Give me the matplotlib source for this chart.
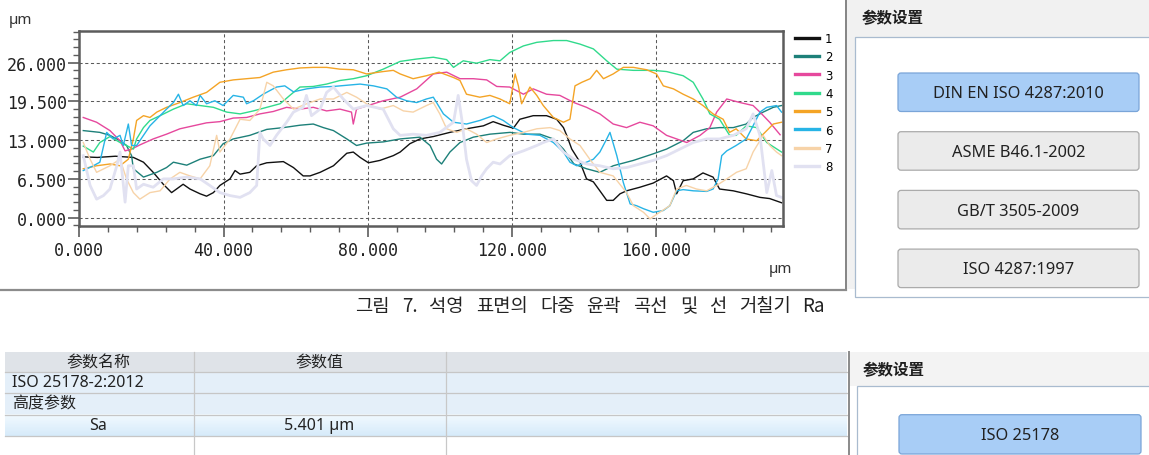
import numpy as np
import matplotlib
matplotlib.use("Agg")
import matplotlib.pyplot as plt
from matplotlib.patches import Rectangle, FancyBboxPatch
from matplotlib.ticker import MultipleLocator, FormatStrFormatter

# profile curves (x in µm, height in µm)
s1_x = [1, 5, 10, 15, 17.8, 20.5, 23.3, 25.6, 28.8, 30.7, 33.5, 35.3, 37.2, 39, 41.8, 43.2, 44.6, 47.3, 49.2, 52,
        56.6, 59.4, 62.1, 64, 66.8, 70.5, 74.2, 76, 77.9, 80.2, 83.4, 87.1, 89, 91.7, 94.5, 98.2, 102.8, 107.4, 112.1,
        114.8, 117.6, 120.4, 122.2, 125.9, 129.6, 132.4, 134.3, 135.2, 136.6, 138.9, 140.7, 142.6, 144.4, 146.3, 148.1,
        150, 151.8, 155.5, 159.2, 162.9, 164.8, 165.7, 167.5, 170.3, 173, 175.8, 177.6, 181.4, 185, 188.8, 191.5, 194.8]
s1_y = [10.2, 10.1, 10.3, 10.1, 9.3, 7.6, 5.6, 4.2, 5.6, 4.8, 4.0, 3.6, 4.2, 5.4, 6.5, 7.9, 7.3, 7.6, 8.7, 9.2,
        9.4, 8.4, 7.0, 7.0, 7.6, 8.7, 10.8, 11.0, 10.1, 9.2, 9.6, 10.4, 11.0, 12.4, 13.2, 13.6, 14.3, 14.9, 15.4,
        16.1, 15.5, 15.0, 16.5, 17.1, 17.1, 16.5, 15.1, 13.8, 11.5, 9.3, 6.5, 6.0, 4.5, 2.9, 2.9,
        4.0, 4.5, 5.1, 5.8, 7.0, 6.2, 4.0, 6.2, 6.5, 7.5, 6.8, 4.8, 4.5, 4.0, 3.4, 3.2, 2.5]

s2_x = [1.1, 5.7, 8.5, 11.3, 13.1, 14.5, 15, 17.8, 21.5, 24.2, 26.1, 29.8, 33.5, 37.2, 39.9, 42.7, 47.3, 52, 56.6,
        61.2, 64.9, 67.7, 70.5, 74.2, 76.9, 79.7, 84.3, 89, 94.5, 97.3, 99.1, 100.5, 102.8, 105.6, 109.3, 113.9,
        119.5, 123.2, 127.8, 131.5, 134.3, 137.2, 140.7, 144.4, 148.1, 153.7, 159.2, 162.9, 167.5, 170.3, 174,
        177.6, 181.4, 185, 186.9, 189.7, 192.5, 194.8]
s2_y = [14.6, 14.3, 13.8, 12.9, 12.1, 10.4, 8.2, 6.8, 7.6, 8.4, 9.3, 8.8, 9.8, 10.4, 12.4, 13.2, 13.8, 14.8, 15.1,
        15.5, 15.7, 15.1, 14.6, 13.2, 12.1, 12.5, 12.7, 13.2, 13.5, 12.1, 9.8, 9.0, 11.0, 12.6, 13.5, 14.0,
        14.3, 14.0, 14.0, 13.2, 11.5, 9.0, 8.2, 7.6, 8.7, 9.6, 10.7, 11.5, 12.9, 14.3, 14.9,
        15.1, 15.1, 15.7, 16.8, 17.7, 18.5, 18.8]

s3_x = [1.1, 4.8, 8.5, 11.3, 12.7, 14.5, 16.8, 20.5, 24.2, 27.9, 31.6, 35.3, 39, 42.7, 46.4, 50.1, 53.8, 57.5, 61.2,
        64.9, 68.6, 72.3, 75.5, 76, 76.9, 80.6, 84.3, 89, 93.6, 98.2, 101.9, 105.6, 109.3, 113.0, 115.8, 119.4,
        123.2, 125.9, 129.6, 133.3, 137.2, 140.7, 144.4, 148.1, 151.8, 155.5, 159.2, 162.9, 165.7, 168.5, 172.2,
        174.9, 176.8, 179.6, 183.3, 186.9, 188.8, 191.5, 194.4]
s3_y = [16.8, 16.0, 14.6, 12.9, 11.2, 11.5, 12.2, 13.2, 14.0, 14.9, 15.4, 15.9, 16.1, 16.7, 16.8, 17.4, 17.8, 18.5, 18.2,
        18.5, 17.9, 18.2, 17.7, 15.7, 18.2, 18.9, 19.6, 20.2, 21.6, 24.1, 24.4, 23.3, 23.3, 23.1, 22.0, 21.9,
        20.7, 21.6, 20.7, 20.5, 19.3, 18.5, 17.4, 15.7, 15.1, 16.0, 15.4, 13.8, 13.2, 12.6, 13.8,
        15.1, 17.7, 19.9, 19.3, 18.8, 17.7, 16.0, 13.9]

s4_x = [1.1, 3.9, 5.7, 8.5, 11.3, 13.1, 15, 15.9, 17.8, 19.6, 22.4, 26.1, 29.8, 33.5, 37.2, 40.9, 44.6, 48.3, 52,
        55.7, 58.4, 61.2, 64.9, 68.6, 72.3, 76, 79.7, 84.3, 89, 93.6, 98.2, 101.9, 103.8, 106.5, 110.2, 113.9,
        116.7, 119.4, 123.2, 126.9, 131.5, 135.2, 138.9, 142.6, 146.3, 149.1, 153.7, 159.2, 162.9, 167.5, 170.3,
        173, 174.9, 177.6, 180.4, 182.2, 185, 187.9, 190.7, 194.8]
s4_y = [12.0, 11.0, 12.6, 13.6, 12.6, 12.1, 11.5, 13.2, 15.1, 16.3, 17.1, 18.2, 19.1, 18.8, 18.5, 17.7, 17.4, 17.9, 18.5,
        19.1, 20.5, 21.9, 22.0, 22.4, 23.0, 23.3, 23.8, 24.9, 26.2, 26.6, 26.9, 26.5, 25.2, 26.3, 25.9, 26.5,
        26.3, 27.7, 28.8, 29.4, 29.7, 29.7, 29.1, 28.3, 26.3, 24.9, 24.7, 24.7, 24.5, 23.8, 22.7,
        19.9, 17.4, 16.5, 13.8, 13.8, 15.4, 15.1, 12.6, 11.0]

s5_x = [1.1, 4.8, 8.5, 11.3, 13.6, 15, 15.9, 17.8, 19.6, 21.5, 24.2, 27.9, 31.6, 35.3, 39, 42.7, 46.4, 50.1, 53.8,
        57.5, 61.2, 64.9, 68.6, 72.3, 76, 79.7, 84.3, 87.1, 89, 92.6, 96.3, 99.8, 103.8, 105.6, 107.4, 111.1,
        113.9, 116.7, 119.4, 120.9, 121.8, 122.7, 125.0, 126.9, 128.7, 131.5, 134.3, 136.1, 137.5, 139.4, 141.7,
        143.5, 145.4, 148.1, 150.9, 153.7, 157.4, 160.1, 162, 164.8, 167.5, 170.3, 173, 175.8, 178.6, 180.4,
        182.2, 185, 187.9, 190.7, 192.5, 194.8]
s5_y = [8.2, 8.7, 9.0, 8.7, 9.8, 13.2, 16.3, 17.1, 16.8, 17.7, 18.5, 19.3, 20.2, 21.0, 22.7, 23.1, 23.3, 23.5, 24.4,
        24.8, 25.1, 25.2, 25.2, 24.9, 24.8, 24.1, 24.5, 24.7, 24.1, 23.3, 23.8, 24.4, 23.5, 23.0, 20.7, 20.2,
        20.5, 19.9, 19.1, 24.1, 22.1, 19.1, 21.9, 20.5, 18.8, 16.8, 16.0, 16.5, 22.1, 22.7, 23.3,
        24.7, 23.3, 24.1, 25.2, 25.2, 24.8, 24.1, 22.1, 21.6, 20.7, 19.9, 18.8, 17.4, 16.5, 14.3,
        14.9, 13.2, 12.9, 14.6, 15.7, 16.0]

s6_x = [1.1, 3.9, 5.7, 7.6, 9.4, 11.3, 12.2, 13.6, 14.5, 15.9, 17.8, 19.6, 22.4, 24.2, 26.1, 27.5, 28.8, 30.7, 32.5,
        33.5, 35.3, 37.6, 39.9, 42.7, 45.5, 46.4, 48.3, 51, 54.7, 57, 59.4, 63.1, 66.8, 70.5, 74.2, 77.9, 81.6,
        85.3, 88, 90.8, 93.6, 96.3, 98.2, 101.0, 103.8, 107.4, 111.1, 114.8, 117.6, 120.4, 124.1, 127.8, 131.5,
        134.3, 136.1, 138.0, 140.7, 142.6, 144.4, 146.3, 147.2, 149.1, 150.9, 152.8, 154.6, 156.5, 159.2, 162,
        163.8, 165.7, 167.5, 170.3, 174, 175.8, 177.2, 178.2, 179.6, 182.2, 185, 186.9, 188.8, 190.7, 193.4, 194.8]
s6_y = [7.9, 8.7, 9.3, 14.3, 13.2, 13.8, 12.1, 15.7, 12.1, 12.1, 13.8, 15.4, 17.1, 18.2, 19.3, 20.7, 18.8, 19.6, 18.8,
        20.5, 19.1, 19.6, 18.8, 20.5, 20.2, 19.1, 19.6, 20.7, 21.9, 22.1, 21.1, 21.6, 21.9, 22.0, 22.2, 22.4, 22.1,
        21.6, 20.2, 19.6, 19.3, 19.9, 20.2, 17.4, 16.0, 15.7, 16.3, 17.1, 16.3, 15.1, 14.0, 13.8, 12.6,
        11.0, 9.3, 8.7, 9.3, 9.8, 11.0, 13.2, 14.3, 10.4, 5.9, 2.3, 2.0, 1.5, 0.9, 1.2,
        2.0, 4.5, 4.7, 4.5, 4.4, 4.8, 6.5, 10.4, 11.2, 12.1, 13.2, 15.4, 17.7, 18.5, 18.8, 17.7]

s7_x = [1.1, 3, 4.8, 8.5, 11.3, 13.1, 15, 16.8, 19.6, 22.4, 25.2, 27.9, 30.7, 33.5, 36.2, 38.1, 39, 41.8, 44.6, 47.3,
        50.1, 52, 53.8, 56.6, 59.4, 63.1, 66.8, 70.5, 74.2, 76.9, 79.7, 83.4, 87.1, 89.9, 92.6, 96.3, 98.2, 100,
        101.9, 104.7, 107.4, 110.2, 113.0, 115.8, 119.4, 123.2, 126.9, 130.6, 133.3, 136.1, 138.9, 141.6, 144.4,
        148.1, 151.8, 153.7, 156.5, 158.3, 161.0, 163.8, 165.7, 168.4, 171.2, 174, 176.8, 179.6, 182.3, 185,
        186.9, 189.7, 191.5, 193.4, 194.8]
s7_y = [12.6, 9.8, 7.6, 8.7, 9.8, 6.5, 4.2, 3.1, 4.2, 4.5, 6.5, 7.6, 7.0, 6.5, 8.7, 13.8, 11.0, 13.2, 16.5, 16.3,
        18.2, 22.7, 22.1, 19.9, 18.2, 19.1, 19.9, 19.9, 21.0, 20.2, 19.1, 18.2, 18.8, 17.9, 17.7, 18.8, 19.3, 17.4,
        14.9, 14.3, 14.9, 14.0, 12.6, 13.2, 13.8, 14.3, 14.9, 15.1, 14.6, 13.2, 12.1, 9.8, 7.6,
        7.0, 4.2, 2.0, 0.9, -0.2, 0.9, 2.0, 4.8, 5.4, 4.8, 4.5, 5.4, 6.5, 7.6, 8.2,
        11.0, 13.8, 12.1, 11.0, 10.4]

s8_x = [1.1, 3, 4.8, 6.7, 8.5, 10.4, 11.3, 12.7, 13.6, 15, 15.9, 17.8, 20.5, 23.3, 26.1, 29.8, 33.5, 36.2, 39, 41.8,
        44.6, 47.3, 49.2, 50.1, 51, 52.9, 54.7, 57.5, 59.4, 62.1, 63.0, 64.4, 66.8, 68.6, 70.5, 73.2, 76, 79.7,
        84.3, 87.1, 89, 92.6, 96.3, 100, 103.8, 105.1, 106.1, 107.4, 108.8, 110.2, 111.6, 113, 114.8, 116.7, 119.4,
        123.2, 126.9, 128.7, 131.5, 134.3, 137.2, 140.7, 144.4, 148.1, 151.8, 155.5, 159.2, 162.9, 166.6, 170.3,
        174, 177.6, 181.4, 185, 186.9, 188.8, 190.7, 192.1, 193.4, 194.8]
s8_y = [10.4, 5.4, 3.1, 3.7, 4.8, 8.7, 11.0, 2.6, 8.7, 8.7, 4.8, 5.6, 5.1, 6.5, 6.5, 6.8, 6.5, 5.4, 4.2, 3.7,
        3.4, 4.2, 5.4, 14.3, 13.2, 12.1, 13.8, 16.0, 17.7, 18.5, 20.5, 17.1, 18.2, 21.0, 21.9, 19.9, 18.2, 18.8,
        18.2, 14.9, 13.8, 14.0, 13.8, 14.3, 16.0, 20.5, 16.5, 9.8, 6.2, 5.4, 7.0, 8.2, 9.3, 9.0, 10.4,
        11.2, 12.1, 12.6, 13.2, 11.0, 9.8, 9.0, 8.7, 8.2, 8.4, 9.0, 9.6, 10.4, 11.5, 12.6,
        13.2, 13.2, 13.8, 14.9, 17.4, 13.8, 4.2, 7.9, 3.7, 3.4]

series_x = [s1_x, s2_x, s3_x, s4_x, s5_x, s6_x, s7_x, s8_x]
series_y = [s1_y, s2_y, s3_y, s4_y, s5_y, s6_y, s7_y, s8_y]
series_names = ["1", "2", "3", "4", "5", "6", "7", "8"]
series_colors = ["#111111", "#1d8079", "#e6489d", "#31da8c", "#f4a426", "#27b4e6", "#f7d3a8", "#e1e1f1"]
series_widths = [1.0, 1.0, 1.0, 1.0, 1.0, 1.0, 1.0, 2.0]

standards_top = ["DIN EN ISO 4287:2010", "ASME B46.1-2002", "GB/T 3505-2009", "ISO 4287:1997"]
standards_bottom = ["ISO 25178"]

table_header = ["参数名称", "参数值"]
table_rows = [("ISO 25178-2:2012", ""), ("高度参数", ""), ("Sa", "5.401 µm")]

caption_words = ["그림", "7.", "석영", "표면의", "다중", "윤곽", "곡선", "및", "선", "거칠기", "Ra"]

W, H = 1149, 456
CJK = ["Noto Sans CJK SC", "DejaVu Sans"]
UI = ["Noto Sans", "DejaVu Sans"]


def button(ax, x, y, w, h, label, active=False):
    fc = "#a8cdf6" if active else "#ebebeb"
    ec = "#7aa5d8" if active else "#ababab"
    ax.add_patch(FancyBboxPatch((x, y), w, h, boxstyle="round,pad=0,rounding_size=3",
                                fc=fc, ec=ec, lw=0.9))
    ax.text(x + w / 2, y + h / 2 + 1, label, ha="center", va="center", fontsize=11.8,
            family=UI, color="#222222")


fig = plt.figure(figsize=(W / 100, H / 100), dpi=100)
fig.patch.set_facecolor("white")

# pixel-space canvas for the surrounding UI pieces
bg = fig.add_axes([0, 0, 1, 1])
bg.set_xlim(0, W)
bg.set_ylim(H, 0)
bg.axis("off")

# chart panel frame
bg.plot([846, 846], [0, 291], color="#707070", lw=1.2)
bg.plot([0, 846], [290.5, 290.5], color="#8c8c8c", lw=1.6)

# upper settings panel
bg.add_patch(Rectangle((847, 0), W - 847, 290, fc="#f1f1f1", ec="none"))
bg.add_patch(Rectangle((855, 38), W - 855 + 5, 260, fc="white", ec="#a9bbcf", lw=0.9))
bg.text(862, 18, "参数设置", fontsize=11.2, family=CJK, weight="bold", va="center", color="#1e1e1e")
for i, lab in enumerate(standards_top):
    button(bg, 898, 74 + i * 58.7, 241, 38.5, lab, active=(i == 0))

# caption, word by word so it spans the same width as the original
renderer = fig.canvas.get_renderer()
cap_texts = [bg.text(0, 307, w, fontsize=13.5, family=["Noto Sans CJK KR", "DejaVu Sans"],
                     va="center", ha="left", color="#222222") for w in caption_words]
widths = [t.get_window_extent(renderer).width for t in cap_texts]
cap_left, cap_right = 355, 825
gap = (cap_right - cap_left - sum(widths)) / (len(widths) - 1)
xpos = cap_left
for t, wd in zip(cap_texts, widths):
    t.set_x(xpos)
    xpos += wd + gap

# table
row_edges = [353.3, 372.7, 394.0, 415.7, 437.3]
bg.add_patch(Rectangle((5, row_edges[0]), 842, row_edges[1] - row_edges[0], fc="#dfe3e8", ec="none"))
for k in range(2):
    bg.add_patch(Rectangle((5, row_edges[k + 1]), 842, row_edges[k + 2] - row_edges[k + 1],
                           fc="#e4eff9", ec="none"))
grad = np.linspace(0, 1, 50).reshape(-1, 1)
top_c = np.array([0.95, 0.98, 1.0])
bot_c = np.array([0.84, 0.92, 0.98])
bg.imshow(top_c + grad[..., None] * (bot_c - top_c), extent=(5, 847, row_edges[4], row_edges[3]),
          aspect="auto", zorder=1)
bg.set_xlim(0, W)
bg.set_ylim(H, 0)
for y in row_edges[1:]:
    bg.plot([5, 847], [y, y], color="#c6c6c6", lw=0.9, zorder=2)
for x in [193.5, 446]:
    bg.plot([x, x], [row_edges[0], H], color="#c8c8c8", lw=0.9, zorder=2)

col_mid = [98, 319.5]
for j, lab in enumerate(table_header):
    bg.text(col_mid[j], (row_edges[0] + row_edges[1]) / 2, lab, fontsize=11.5, family=CJK,
            ha="center", va="center", color="#222222", zorder=3)
for i, (name, val) in enumerate(table_rows):
    yc = (row_edges[i + 1] + row_edges[i + 2]) / 2
    if val:
        bg.text(col_mid[0], yc, name, fontsize=11.5, family=UI, ha="center", va="center",
                color="#222222", zorder=3)
        bg.text(col_mid[1], yc, val, fontsize=11.5, family=UI, ha="center", va="center",
                color="#222222", zorder=3)
    else:
        bg.text(12, yc, name, fontsize=11.5, family=["Noto Sans", "Noto Sans CJK SC"], ha="left",
                va="center", color="#222222", zorder=3)

# lower settings panel
bg.plot([848.5, 848.5], [353, H], color="#8a8a8a", lw=1.4)
bg.add_patch(Rectangle((850, 353), W - 850, 34, fc="#f3f3f3", ec="none"))
bg.add_patch(Rectangle((856.5, 387), W - 856 + 5, 80, fc="white", ec="#a9bbcf", lw=0.9))
bg.text(863, 370, "参数设置", fontsize=11.2, family=CJK, weight="bold", va="center", color="#1e1e1e")
button(bg, 899, 415.7, 242, 39.3, standards_bottom[0], active=True)

# unit labels
bg.text(9, 20, "µm", fontsize=11, family=UI, va="center", color="#333333")
bg.text(769, 270, "µm", fontsize=11, family=UI, va="center", color="#333333")

# profile chart
left, right, top, bottom = 79.3, 783, 32, 227
ax = fig.add_axes([left / W, 1 - bottom / H, (right - left) / W, (bottom - top) / H])
ax.set_facecolor("white")
lines = []
for xs, ys, c, lw in zip(series_x, series_y, series_colors, series_widths):
    ln, = ax.plot(xs, ys, color=c, lw=lw)
    lines.append(ln)

ax.set_xlim(0, 195.2)
ax.set_ylim(-1.4, 31.3)
ax.xaxis.set_major_locator(MultipleLocator(40))
ax.xaxis.set_minor_locator(MultipleLocator(8))
ax.yaxis.set_major_locator(MultipleLocator(6.5))
ax.yaxis.set_minor_locator(MultipleLocator(1.3))
ax.xaxis.set_major_formatter(FormatStrFormatter("%.3f"))
ax.yaxis.set_major_formatter(FormatStrFormatter("%.3f"))
ax.grid(True, which="major", color="#5a5a5a", ls=(0, (3, 2.5)), lw=0.75)
for sp in ax.spines.values():
    sp.set_color("#5c5c5c")
    sp.set_linewidth(1.8)
ax.tick_params(which="major", direction="out", length=8, width=1.2, color="#5c5c5c",
               labelsize=12, labelcolor="#222222", pad=1)
ax.tick_params(which="minor", direction="out", length=4, width=1.0, color="#5c5c5c")
ax.tick_params(axis="x", which="major", pad=3)
for lab in ax.get_xticklabels() + ax.get_yticklabels():
    lab.set_family("DejaVu Sans Mono")

leg = ax.legend(lines, series_names, loc="upper left", bbox_to_anchor=(795 / W, 1 - 33 / H),
                bbox_transform=fig.transFigure, frameon=False, fontsize=8.5, borderpad=0,
                borderaxespad=0, handlelength=2.0, handletextpad=0.55, labelspacing=0.45)
for ln in leg.get_lines():
    ln.set_linewidth(2.4)

fig.savefig("out.png", dpi=100)
